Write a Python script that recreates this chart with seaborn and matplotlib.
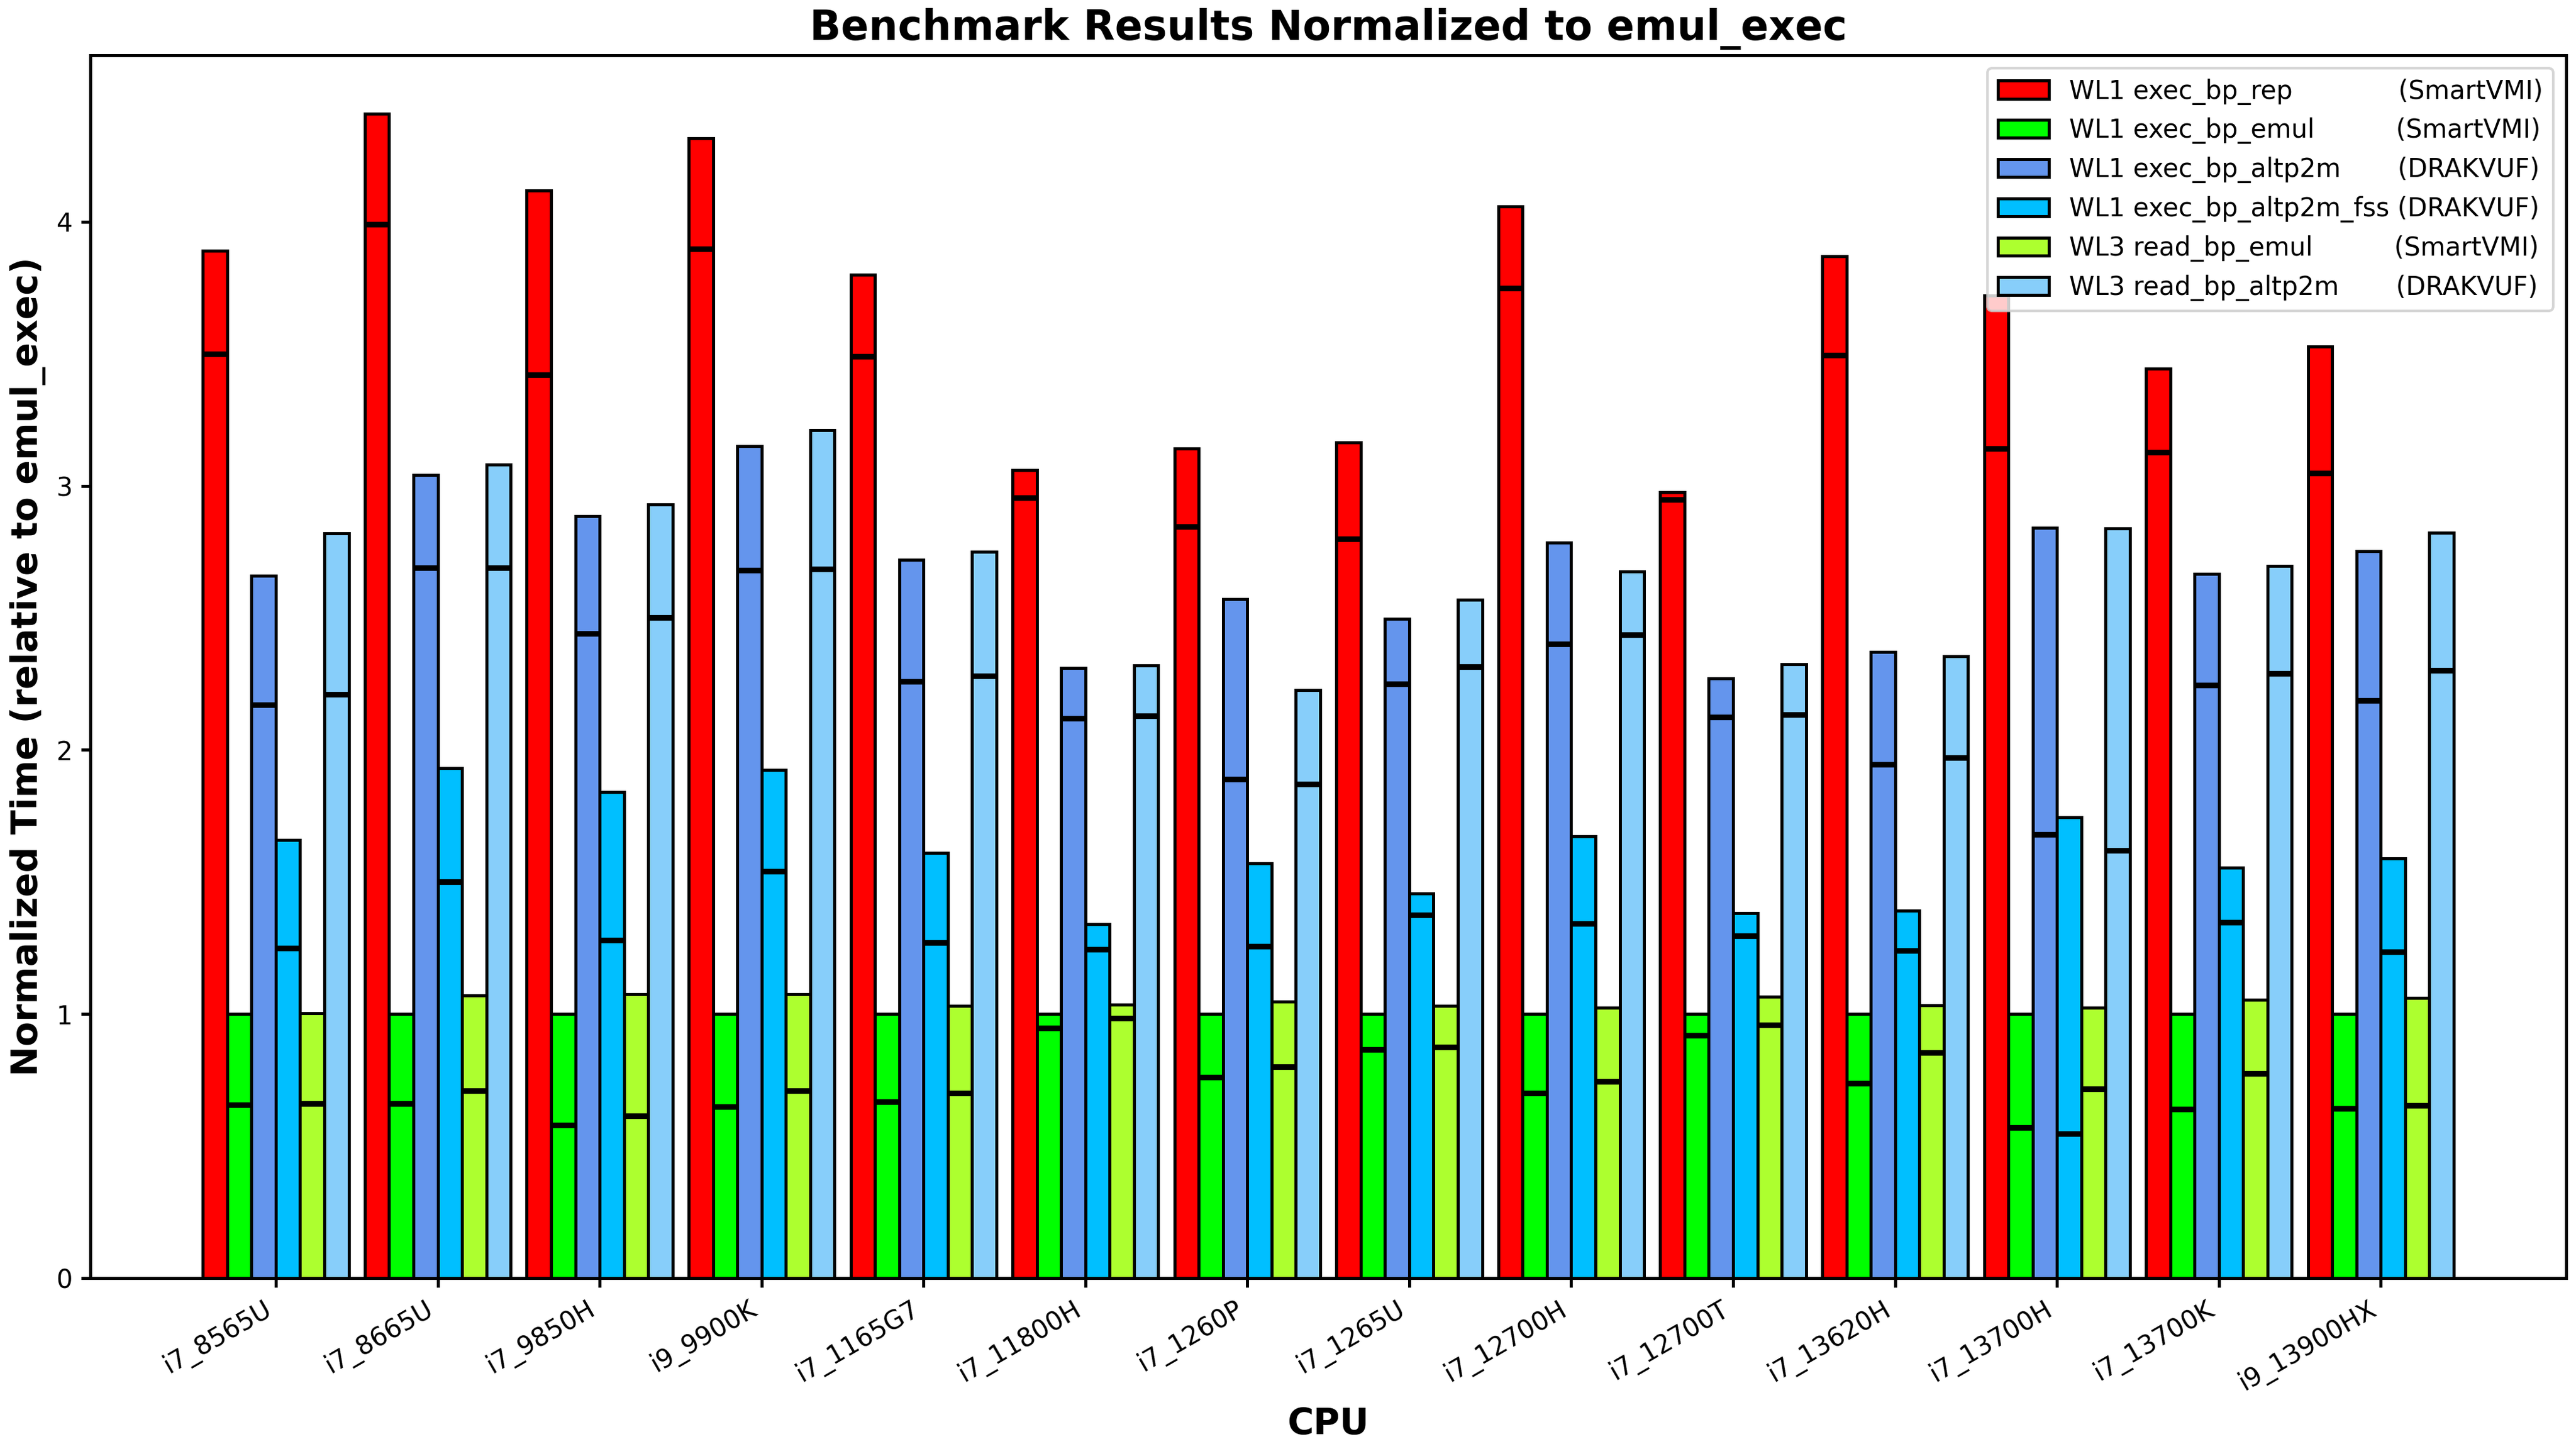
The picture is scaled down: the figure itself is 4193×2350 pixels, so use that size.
import numpy as np
import pandas as pd
import matplotlib
matplotlib.use("Agg")
import matplotlib.pyplot as plt
import seaborn as sns

cpus = ["i7_8565U", "i7_8665U", "i7_9850H", "i9_9900K", "i7_1165G7", "i7_11800H",
        "i7_1260P", "i7_1265U", "i7_12700H", "i7_12700T", "i7_13620H", "i7_13700H",
        "i7_13700K", "i9_13900HX"]

series = ["WL1 exec_bp_rep", "WL1 exec_bp_emul", "WL1 exec_bp_altp2m",
          "WL1 exec_bp_altp2m_fss", "WL3 read_bp_emul", "WL3 read_bp_altp2m"]
tools = ["(SmartVMI)", "(SmartVMI)", "(DRAKVUF)", "(DRAKVUF)", "(SmartVMI)", "(DRAKVUF)"]
label_pad = [13, 10, 7, 1, 10, 7]

# bar heights
rep_top = [3.89, 4.41, 4.117, 4.315, 3.80, 3.06, 3.14, 3.165, 4.058, 2.976, 3.87, 3.72, 3.444, 3.527]
emul_top = [1.0] * 14
altp2m_top = [2.66, 3.04, 2.885, 3.15, 2.72, 2.31, 2.57, 2.497, 2.786, 2.27, 2.37, 2.84, 2.667, 2.753]
fss_top = [1.66, 1.93, 1.84, 1.925, 1.61, 1.34, 1.57, 1.457, 1.673, 1.382, 1.392, 1.746, 1.554, 1.59]
read_emul_top = [1.003, 1.07, 1.075, 1.075, 1.03, 1.035, 1.048, 1.03, 1.024, 1.066, 1.034, 1.024, 1.055, 1.06]
read_altp2m_top = [2.82, 3.08, 2.93, 3.21, 2.75, 2.32, 2.226, 2.568, 2.675, 2.325, 2.355, 2.839, 2.697, 2.823]

# inner marker values
rep_in = [3.50, 3.99, 3.42, 3.898, 3.49, 2.955, 2.846, 2.80, 3.749, 2.948, 3.494, 3.14, 3.128, 3.048]
emul_in = [0.656, 0.66, 0.58, 0.65, 0.668, 0.947, 0.76, 0.865, 0.70, 0.92, 0.738, 0.571, 0.64, 0.642]
altp2m_in = [2.17, 2.69, 2.44, 2.68, 2.26, 2.12, 1.89, 2.25, 2.40, 2.125, 1.945, 1.68, 2.245, 2.187]
fss_in = [1.25, 1.50, 1.28, 1.54, 1.27, 1.245, 1.257, 1.375, 1.343, 1.295, 1.24, 0.547, 1.347, 1.235]
read_emul_in = [0.66, 0.71, 0.615, 0.71, 0.70, 0.984, 0.80, 0.875, 0.745, 0.959, 0.854, 0.716, 0.775, 0.654]
read_altp2m_in = [2.21, 2.69, 2.50, 2.685, 2.28, 2.13, 1.87, 2.316, 2.437, 2.133, 1.97, 1.62, 2.29, 2.30]

tops = [rep_top, emul_top, altp2m_top, fss_top, read_emul_top, read_altp2m_top]
inners = [rep_in, emul_in, altp2m_in, fss_in, read_emul_in, read_altp2m_in]
colors = ["#FF0000", "#00FF00", "#6495ED", "#00BFFF", "#ADFF2F", "#87CEFA"]

labels = [f"{s}{' ' * p}{t}" for s, p, t in zip(series, label_pad, tools)]

rows = []
for lab, vals in zip(labels, tops):
    for c, v in zip(cpus, vals):
        rows.append({"CPU": c, "series": lab, "value": v})
df = pd.DataFrame(rows)

sns.set_theme(style="white")
plt.rcParams["font.family"] = ["DejaVu Sans"]
plt.rcParams["text.color"] = "black"
plt.rcParams["axes.labelcolor"] = "black"
plt.rcParams["axes.titlecolor"] = "black"
plt.rcParams["axes.edgecolor"] = "black"
plt.rcParams["axes.linewidth"] = 1.2
plt.rcParams["xtick.color"] = "black"
plt.rcParams["ytick.color"] = "black"
plt.rcParams["xtick.labelcolor"] = "black"
plt.rcParams["ytick.labelcolor"] = "black"
plt.rcParams["xtick.major.width"] = 1.2
plt.rcParams["ytick.major.width"] = 1.2
plt.rcParams["xtick.major.size"] = 3.5
plt.rcParams["ytick.major.size"] = 3.5
plt.rcParams["xtick.bottom"] = True
plt.rcParams["ytick.left"] = True

fig = plt.figure(figsize=(4193 / 300, 2350 / 300), dpi=300)
ax = fig.add_axes([0.0351, 0.1149, 0.9611, 0.8468])

sns.barplot(data=df, x="CPU", y="value", hue="series", order=cpus, hue_order=labels,
            palette=colors, width=0.9, gap=0, saturation=1, errorbar=None,
            edgecolor="black", linewidth=1.2, ax=ax)

for cont, inn in zip(ax.containers, inners):
    for bar, v in zip(cont, inn):
        x0 = bar.get_x()
        ax.hlines(v, x0, x0 + bar.get_width(), colors="black", linewidth=2.2, zorder=3)

ax.set_xlim(-1.145, 14.145)
ax.set_ylim(0, 4.63)
ax.set_yticks([0, 1, 2, 3, 4])
ax.tick_params(axis="both", labelsize=10, colors="black", labelcolor="black")
plt.setp(ax.get_xticklabels(), rotation=30, ha="right")

ax.set_title("Benchmark Results Normalized to emul_exec", fontsize=16, fontweight="bold", color="black")
ax.set_xlabel("CPU", fontsize=14, fontweight="bold", color="black")
ax.set_ylabel("Normalized Time (relative to emul_exec)", fontsize=14, fontweight="bold", color="black")

leg = ax.legend(loc="upper right", fontsize=10, framealpha=0.8, fancybox=True)
leg.get_frame().set_edgecolor("0.8")
leg.get_frame().set_linewidth(1.0)
for t in leg.get_texts():
    t.set_color("black")

fig.savefig("out.png", dpi=300)
